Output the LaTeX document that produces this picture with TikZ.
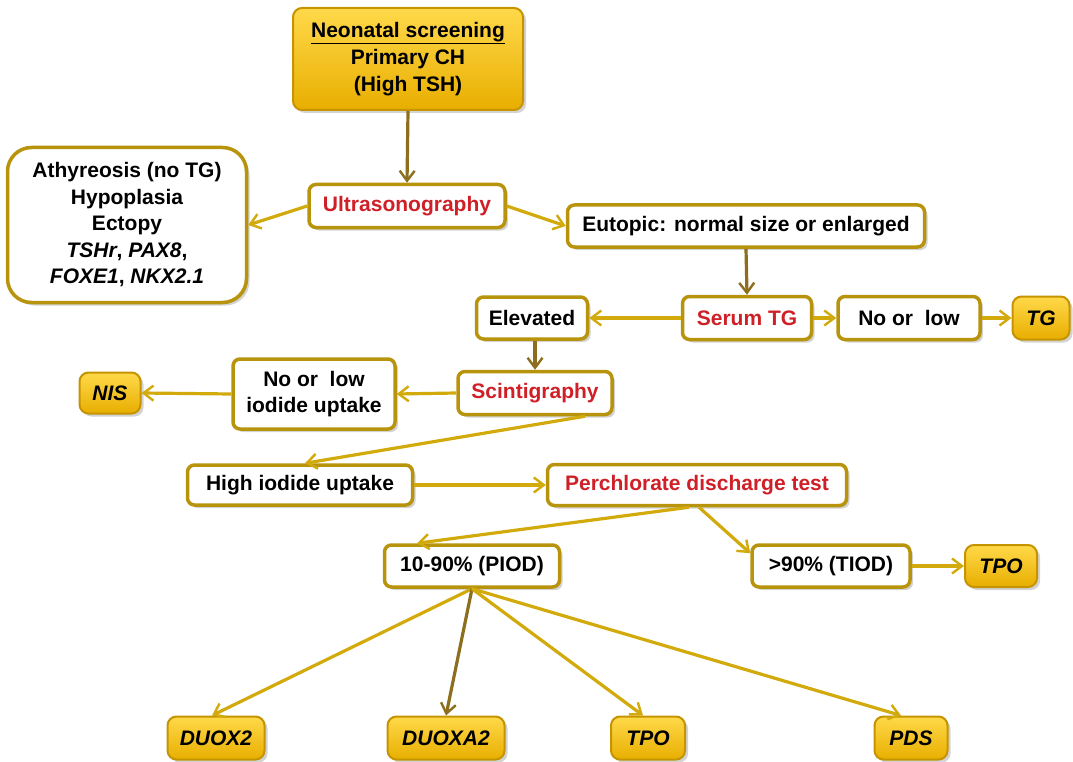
\documentclass[tikz,border=0pt]{standalone}
\usepackage{fontspec}
\setmainfont{Liberation Sans}
\usetikzlibrary{arrows.meta,shadows}
\definecolor{bordc}{HTML}{B8940C}
\definecolor{arrc}{HTML}{D2AA0C}
\definecolor{arrd}{HTML}{8C6E1E}
\definecolor{goldt}{HTML}{FFD94A}
\definecolor{goldb}{HTML}{E8AE00}
\definecolor{redt}{HTML}{CF2027}
\tikzset{
  wbox/.style={rectangle, rounded corners=7pt, draw=bordc, line width=3.5pt, fill=white,
    drop shadow={shadow xshift=3pt, shadow yshift=-3pt, opacity=0.35, fill=gray},
    font=\fontsize{21}{26.5}\selectfont\bfseries, align=center, inner sep=0pt},
  gbox/.style={wbox, top color=goldt, bottom color=goldb, rounded corners=9pt, draw=goldb!85!black,
    line width=2pt, font=\fontsize{21}{26.5}\selectfont\bfseries\itshape},
  redtxt/.style={text=redt},
  arr/.style={draw=arrc, line width=3.2pt, -{Straight Barb[length=10pt,width=15pt,line width=2.4pt]}},
  arrdark/.style={arr, draw=arrd},
}
\begin{document}
\begin{tikzpicture}[x=1pt,y=-1pt]
\useasboundingbox (0,0) rectangle (1073,762);
% nodes
\node[gbox, minimum width=230, minimum height=102, font=\fontsize{21}{27}\selectfont\bfseries] (neo) at (408,59)
  {\underline{Neonatal screening}\\Primary CH\\(High TSH)};
\node[wbox, rounded corners=24pt, minimum width=239, minimum height=155] (athy) at (127,225)
  {Athyreosis (no TG)\\Hypoplasia\\Ectopy\\\textit{TSHr}, \textit{PAX8},\\\textit{FOXE1}, \textit{NKX2.1}};
\node[wbox, redtxt, minimum width=196, minimum height=43] (ultra) at (407,206) {Ultrasonography};
\node[wbox, minimum width=357, minimum height=42] (eut) at (746,226) {Eutopic: normal size or enlarged};
\node[wbox, redtxt, minimum width=129, minimum height=43] (serum) at (747,318) {Serum TG};
\node[wbox, minimum width=111, minimum height=42] (elev) at (532,318) {Elevated};
\node[wbox, minimum width=142, minimum height=43] (nolow) at (909,318) {No or \ low};
\node[gbox, minimum width=57, minimum height=43] (tg) at (1041,318) {TG};
\node[wbox, redtxt, minimum width=154, minimum height=43] (scint) at (535,393) {Scintigraphy};
\node[wbox, minimum width=162, minimum height=70] (nolowi) at (314,394) {No or \ low\\iodide uptake};
\node[gbox, minimum width=61, minimum height=41] (nis) at (110,393) {NIS};
\node[wbox, minimum width=225, minimum height=40] (high) at (300,485) {High iodide uptake};
\node[wbox, redtxt, minimum width=299, minimum height=41] (perch) at (697,485) {Perchlorate discharge test};
\node[wbox, minimum width=175, minimum height=42] (piod) at (472,566) {10-90\% (PIOD)};
\node[wbox, minimum width=158, minimum height=42] (tiod) at (831,566) {>90\% (TIOD)};
\node[gbox, minimum width=72, minimum height=42] (tpoa) at (1001,566) {TPO};
\node[gbox, minimum width=97, minimum height=43] (duox) at (216,738) {DUOX2};
\node[gbox, minimum width=117, minimum height=43] (duoxa) at (446,738) {DUOXA2};
\node[gbox, minimum width=74, minimum height=43] (tpob) at (648,738) {TPO};
\node[gbox, minimum width=73, minimum height=43] (pds) at (911,738) {PDS};
% connectors
\draw[arrdark] (neo.south) -- (ultra.north);
\draw[arr] (ultra.west) -- (athy.east);
\draw[arr] (ultra.east) -- (eut.west);
\draw[arrdark] (eut.south) -- (serum.north);
\draw[arr] (serum.west) -- (elev.east);
\draw[arr] (serum.east) -- (nolow.west);
\draw[arr] (nolow.east) -- (tg.west);
\draw[arrdark] ([xshift=3]elev.south) -- (scint.north);
\draw[arr] (scint.west) -- (nolowi.east);
\draw[arr] (nolowi.west) -- (nis.east);
\draw[arr] ([xshift=50]scint.south) -- ([xshift=5]high.north);
\draw[arr] (high.east) -- (perch.west);
\draw[arr] ([xshift=-8]perch.south) -- ([xshift=-55]piod.north);
\draw[arr] ([xshift=2]perch.south) -- ([yshift=-10]tiod.north west);
\draw[arr] (tiod.east) -- (tpoa.west);
\draw[arr] (piod.south) -- ([xshift=-4]duox.north);
\draw[arrdark] (piod.south) -- (duoxa.north);
\draw[arr] (piod.south) -- ([xshift=-5]tpob.north);
\draw[arr] (piod.south) -- ([xshift=-10]pds.north);
\end{tikzpicture}
\end{document}
